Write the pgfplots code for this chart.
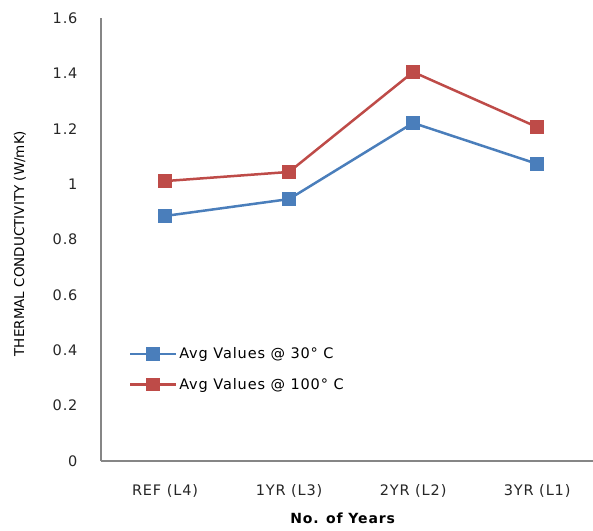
\documentclass[border=0pt]{standalone}
\usepackage{pgfplots}
\pgfplotsset{compat=1.18}
\usetikzlibrary{calc}
\usepackage{fontspec}
\setmainfont{DejaVu Sans}
\newfontfamily\widesans[LetterSpace=6]{DejaVu Sans}
\definecolor{serA}{HTML}{4A7EBB}
\definecolor{serB}{HTML}{BE4B48}
\definecolor{axisgray}{HTML}{868686}
\begin{document}
\begin{tikzpicture}
\begin{axis}[
  scale only axis,
  width=492pt, height=443pt,
  xmin=-0.516, xmax=3.45,
  ymin=0, ymax=1.6,
  xtick={0,1,2,3},
  xticklabels={REF (L4),1YR (L3),2YR (L2),3YR (L1)},
  ytick={0,0.2,...,1.6},
  yticklabels={0,0.2,0.4,0.6,0.8,1,1.2,1.4,1.6},
  axis x line*=bottom,
  axis y line*=left,
  axis line style={axisgray, line width=1.2pt, -},
  major tick length=0pt,
  tick label style={font=\widesans\fontsize{14.5}{16}\selectfont, text=black!85},
  yticklabel style={xshift=-20pt},
  xticklabel style={yshift=-20pt},
  xlabel={\textbf{No. of Years}},
  ylabel={THERMAL CONDUCTIVITY (W/mK)},
  xlabel style={font=\widesans\fontsize{14}{16}\selectfont, yshift=-9pt, xshift=-4pt},
  ylabel style={font=\fontsize{13.5}{15}\selectfont, yshift=20pt, xshift=-4pt},
  legend style={draw=none, fill=none, at={(0.05,0.265)}, anchor=north west,
    font=\widesans\fontsize{14.5}{16}\selectfont, row sep=14pt,
    legend cell align=left},
  legend image code/.code={%
    \draw[#1, mark=none] (0pt,0pt) -- (46pt,0pt);
    \draw[#1, only marks] plot coordinates {(23pt,0pt)};},
  clip=false,
]
\addplot[serA, line width=2.5pt, mark=square*, mark size=5.5pt, mark options={solid}]
  coordinates {(0,0.885) (1,0.946) (2,1.221) (3,1.073)};
\addlegendentry{Avg Values @ 30° C}
\addplot[serB, line width=2.5pt, mark=square*, mark size=5.5pt, mark options={solid}]
  coordinates {(0,1.011) (1,1.044) (2,1.405) (3,1.206)};
\addlegendentry{Avg Values @ 100° C}
\coordinate (sw) at (rel axis cs:0,0);
\coordinate (ne) at (rel axis cs:1,1);
\end{axis}
\pgfresetboundingbox
\useasboundingbox ($(sw)+(-101pt,-69pt)$) rectangle ($(ne)+(0pt,18pt)$);
\end{tikzpicture}
\end{document}
